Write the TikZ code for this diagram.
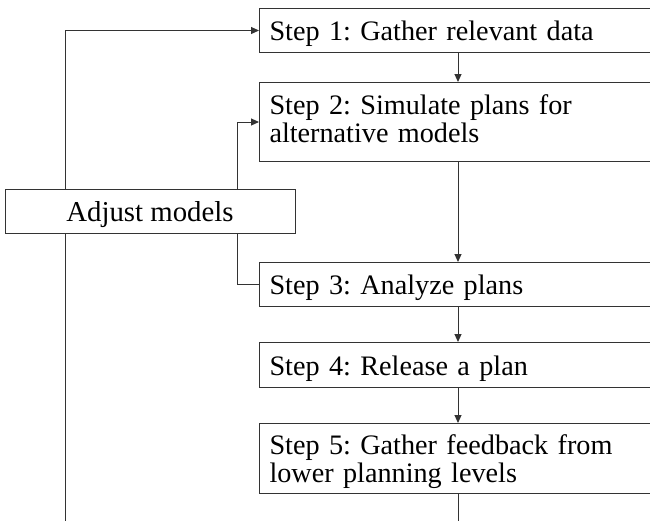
\documentclass[tikz,border=0pt]{standalone}
\usepackage{fontspec}
\setmainfont{Liberation Serif}
\usepackage{tikz}
\usetikzlibrary{arrows.meta}
\tikzset{>={Triangle[length=8pt,width=7pt]}}
\frenchspacing

\begin{document}
\begin{tikzpicture}[x=1pt,y=-1pt,line width=1pt,draw=black!80]
  \tikzstyle{stepbox}=[draw=black!80,anchor=north west,align=left,text width=420pt,
    inner xsep=10pt,inner ysep=0pt,text height=20pt,text depth=0pt,
    font=\fontsize{28.2}{28}\selectfont\frenchspacing]
  \tikzstyle{flow}=[->,black!80]
  \useasboundingbox (0,0) rectangle (650,520);
  \clip (0,0) rectangle (650,520);
  % x of the vertical lines
  \coordinate (l) at (65,0);
  \coordinate (r) at (237,0);
  \coordinate (mid) at (458,0);
  \coordinate (bot) at (0,530);
  \node[stepbox,minimum height=44pt] (s1) at (259,8) {Step 1: Gather relevant data};
  \node[stepbox,minimum height=79pt,text depth=35pt] (s2) at (259,82) {Step 2: Simulate plans for\\alternative models};
  \node[stepbox,minimum height=44pt] (s3) at (259,262) {Step 3: Analyze plans};
  \node[stepbox,minimum height=45pt] (s4) at (259,342) {Step 4: Release a plan};
  \node[stepbox,minimum height=70pt,text depth=28pt] (s5) at (259,423) {Step 5: Gather feedback from\\lower planning levels};
  \node[draw=black!80,minimum width=290pt,minimum height=44pt,text height=20pt,text depth=0pt,
    inner sep=0pt,font=\fontsize{28.8}{28}\selectfont] (adjust) at (150,211) {Adjust models};
  \draw[flow] (s1.south -| mid) -- (s2.north -| mid);
  \draw[flow] (s2.south -| mid) -- (s3.north -| mid);
  \draw[flow] (s3.south -| mid) -- (s4.north -| mid);
  \draw[flow] (s4.south -| mid) -- (s5.north -| mid);
  \draw (s5.south -| mid) -- (bot -| mid);
  \draw[flow] (adjust.north -| l) |- (s1);
  \draw[flow] (adjust.north -| r) |- (s2);
  \draw (adjust.south -| r) |- (s3);
  \draw (adjust.south -| l) -- (bot -| l);
\end{tikzpicture}
\end{document}
